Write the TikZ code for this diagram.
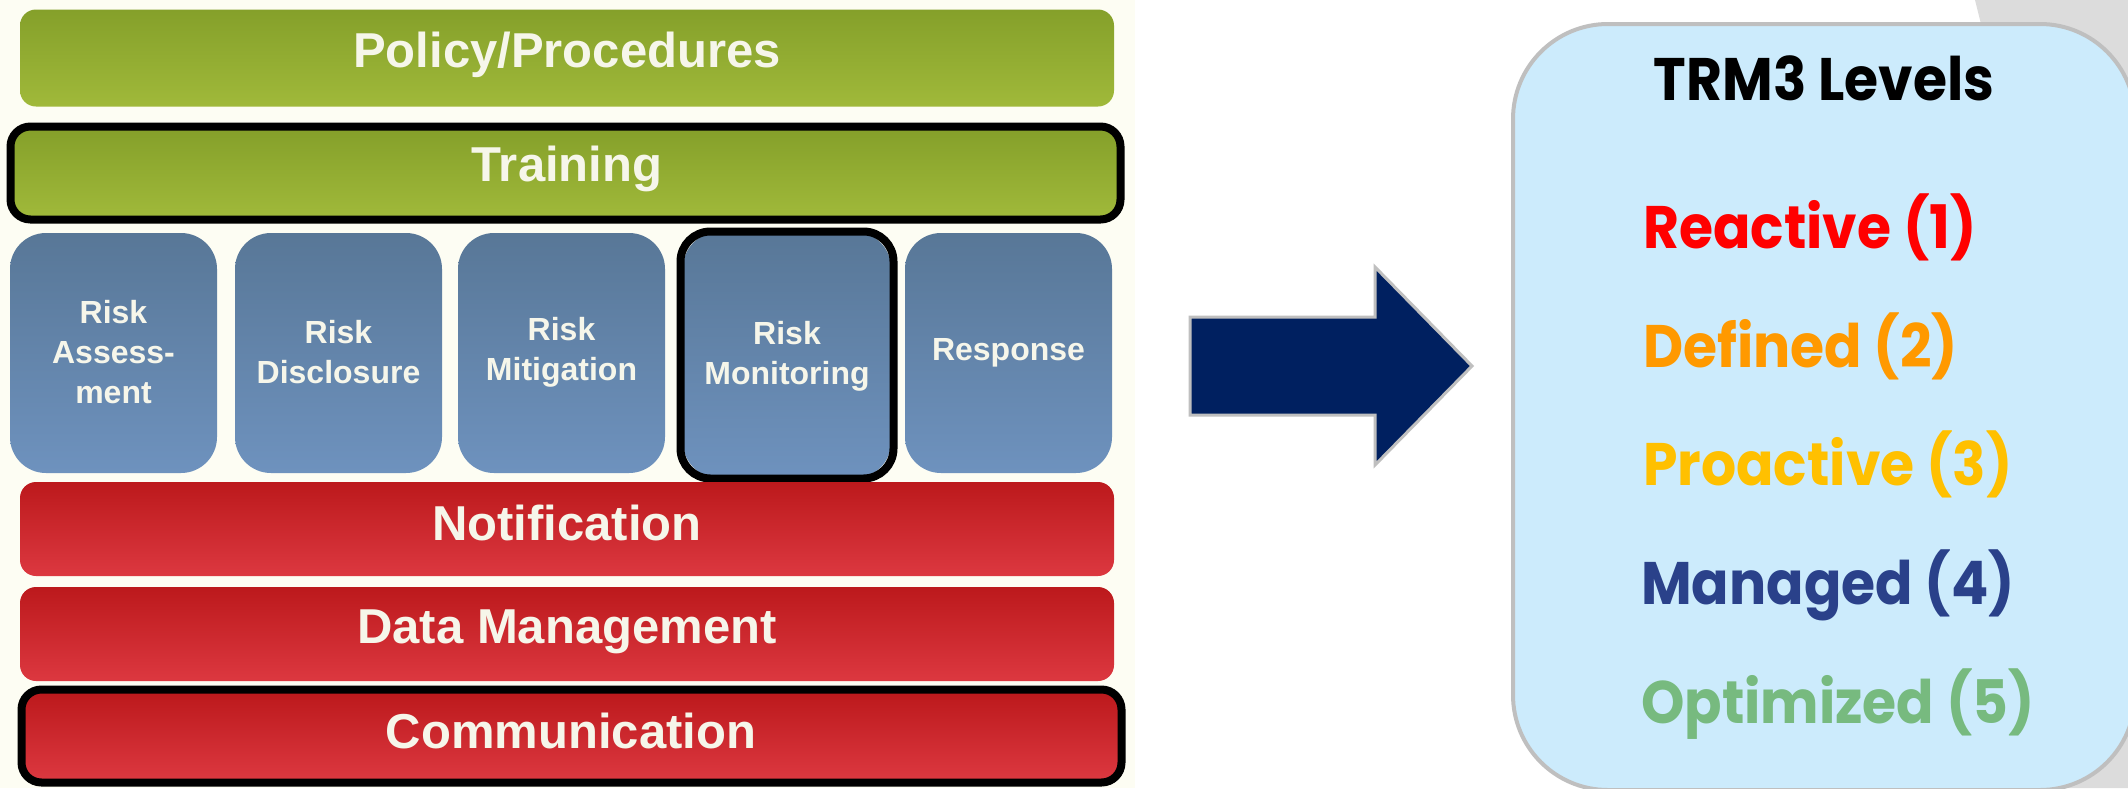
\documentclass[tikz,border=0pt]{standalone}
\usepackage{fontspec}
\setmainfont{Liberation Sans}
\newfontfamily\gothic[FakeStretch=0.92]{Poppins}
\definecolor{grnTop}{HTML}{85A02A}
\definecolor{grnBot}{HTML}{A0B93A}
\definecolor{redTop}{HTML}{BC191C}
\definecolor{redBot}{HTML}{DC3840}
\definecolor{bluTop}{HTML}{587797}
\definecolor{bluBot}{HTML}{6E92BE}
\definecolor{cream}{HTML}{FDFDF3}
\definecolor{labelwhite}{HTML}{F6F6EA}
\definecolor{navy}{HTML}{002060}
\definecolor{edgegray}{HTML}{BFBFBF}
\definecolor{backgray}{HTML}{DCDCDC}
\definecolor{panelblue}{HTML}{CCEBFC}
\definecolor{lvlOne}{HTML}{FF0000}
\definecolor{lvlTwo}{HTML}{FF9900}
\definecolor{lvlThree}{HTML}{FFC000}
\definecolor{lvlFour}{HTML}{2A418A}
\definecolor{lvlFive}{HTML}{77BA7F}
\begin{document}
\begin{tikzpicture}[x=1pt,y=-1pt,
  bar/.style={rectangle, rounded corners=16pt, draw=none, inner sep=0pt, minimum width=1094pt},
  greenbar/.style={bar, top color=grnTop, bottom color=grnBot},
  redbar/.style={bar, top color=redTop, bottom color=redBot},
  bluebox/.style={rectangle, rounded corners=36pt, draw=none, inner sep=0pt,
    top color=bluTop, bottom color=bluBot, minimum width=207pt, minimum height=240pt},
  highlight/.style={draw=black, line width=8pt, rounded corners=20pt, fill=none, inner sep=0pt},
  bartext/.style={anchor=base, text=labelwhite, font=\bfseries\fontsize{49}{49}\selectfont, inner sep=0pt},
  boxtext/.style={anchor=center, align=center, text=labelwhite, font=\bfseries\fontsize{32}{40}\selectfont, inner sep=0pt},
  lvl/.style={anchor=base west, inner sep=0pt, font=\gothic\bfseries\fontsize{60}{60}\selectfont},
]
\useasboundingbox (0,0) rectangle (2128,788);
\fill[white] (0,0) rectangle (2128,788);
% light backdrop behind the framework layers
\fill[cream] (0,0) rectangle (1135,788);

% top layers
\node[greenbar, minimum height=97pt] (policy) at (567,58) {};
\node[bartext] (policyT) at (567,67) {Policy/Procedures};
\node[greenbar, minimum width=1104pt, minimum height=88pt] (training) at (566,173) {};
\node[bartext] (trainingT) at (567,181) {Training};
\node[highlight, minimum width=1110pt, minimum height=93pt] (trainingH) at (565.5,173) {};

% process columns
\node[bluebox] (assess) at (113.5,353) {};
\node[boxtext] (assessT) at (113.5,352) {Risk\\Assess-\\ment};
\node[bluebox] (disclose) at (338.5,353) {};
\node[boxtext] (discloseT) at (338.5,352) {Risk\\Disclosure};
\node[bluebox] (mitigate) at (561.5,353) {};
\node[boxtext] (mitigateT) at (561.5,352) {Risk\\Mitigation};
\node[bluebox, minimum width=208pt, minimum height=246pt] (monitor) at (787,355) {};
\node[boxtext] (monitorT) at (787,356) {Risk\\Monitoring};
\node[highlight, rounded corners=30pt, minimum width=213pt, minimum height=247pt] (monitorH) at (787,355) {};
\node[bluebox] (response) at (1008.5,353) {};
\node[boxtext] (responseT) at (1008.5,353) {Response};

% bottom layers
\node[redbar, minimum height=94pt] (notify) at (567,529) {};
\node[bartext] (notifyT) at (567,540) {Notification};
\node[redbar, minimum width=1096pt, minimum height=88pt] (comm) at (571.5,736) {};
\node[redbar, minimum height=94pt] (data) at (567,634) {};
\node[bartext] (dataT) at (567,643) {Data Management};
\node[bartext] (commT) at (571,748) {Communication};
\node[highlight, minimum width=1100pt, minimum height=93pt] (commH) at (571.5,736) {};

% block arrow
\filldraw[fill=navy, draw=edgegray, line width=3pt, line join=miter]
  (1190,317) -- (1375,317) -- (1375,267) -- (1472,366) -- (1375,465)
  -- (1375,415) -- (1190,415) -- cycle;

% grey sheet behind the level panel
\fill[backgray] (1975,0) -- (2128,0) -- (2128,788) -- (2040,788) -- (1990,60) -- cycle;

% maturity level panel
\node[rectangle, rounded corners=95pt, draw=edgegray, line width=4pt, fill=panelblue,
  minimum width=622pt, minimum height=766pt, inner sep=0pt] (levels) at (1824,407) {};
\node[anchor=base, inner sep=0pt, font=\gothic\bfseries\fontsize{60}{60}\selectfont] (title) at (1824,100) {TRM3 Levels};
\node[lvl, text=lvlOne] (l1) at (1643,248) {Reactive (1)};
\node[lvl, text=lvlTwo] (l2) at (1643,367) {Defined (2)};
\node[lvl, text=lvlThree] (l3) at (1643,485) {Proactive (3)};
\node[lvl, text=lvlFour] (l4) at (1641,604) {Managed (4)};
\node[lvl, text=lvlFive] (l5) at (1641,723) {Optimized (5)};
\end{tikzpicture}
\end{document}
